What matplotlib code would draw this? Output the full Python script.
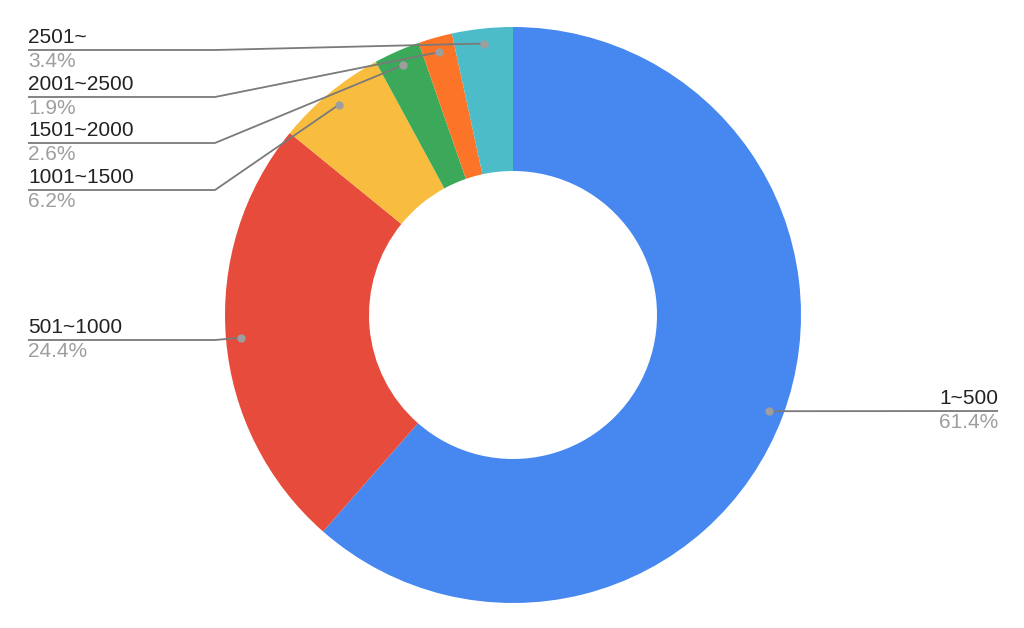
import numpy as np
import matplotlib.pyplot as plt

plt.rcParams['font.family'] = ['Liberation Sans', 'DejaVu Sans']

categories = ["1~500", "501~1000", "1001~1500", "1501~2000", "2001~2500", "2501~"]
shares = [61.4, 24.4, 6.2, 2.6, 1.9, 3.4]
colors = ["#4687F0", "#E74B3C", "#F8BD3E", "#3CA85A", "#FB7427", "#4BBCC8"]

W, H = 1024, 628
fig = plt.figure(figsize=(W / 100, H / 100), dpi=100)
ax = fig.add_axes([0, 0, 1, 1])

cx, cy, R = 513, H - 315, 288
wedges, _ = ax.pie(shares, colors=colors, startangle=90, counterclock=False,
                   radius=R, center=(cx, cy), frame=True,
                   wedgeprops=dict(width=R * 0.5, linewidth=0))
ax.set_xlim(0, W)
ax.set_ylim(0, H)
ax.axis("off")

# label underline y in pixels from top
label_y = [411, 340, 190, 143, 97, 50]
line_col = "#7a7a7a"

for w, lab, val, ly in zip(wedges, categories, shares, label_y):
    mid = np.deg2rad((w.theta1 + w.theta2) / 2)
    px = cx + 0.948 * R * np.cos(mid)
    py = cy + 0.948 * R * np.sin(mid)
    y = H - ly
    if px > cx:
        xs = [px, 998]
        ys = [py, y]
        tx, ha = 998, "right"
    else:
        xs = [28, 215, px]
        ys = [y, y, py]
        tx, ha = 28, "left"
    ax.plot(xs, ys, color=line_col, lw=1.3, solid_capstyle="butt", zorder=3)
    ax.plot(px, py, "o", color="#9e9e9e", ms=5, zorder=4)
    ax.text(tx, y + 3, lab, ha=ha, va="bottom", fontsize=15, color="#222222")
    ax.text(tx, y - 2, f"{val}%", ha=ha, va="top", fontsize=15, color="#9e9e9e")

fig.savefig("out.png", dpi=100, facecolor="white")
